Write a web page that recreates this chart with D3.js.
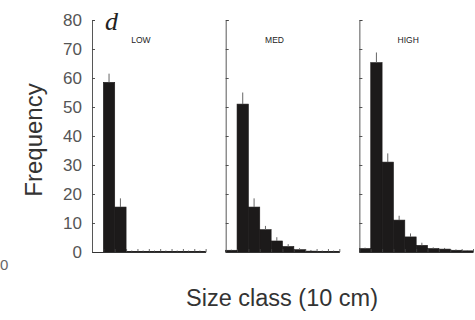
<!DOCTYPE html>
<html><head><meta charset="utf-8">
<script src="https://cdn.jsdelivr.net/npm/d3@7"></script>
<style>body{margin:0;background:#fff}svg{display:block}</style>
</head><body>
<svg id="c" width="475" height="320"></svg>
<script>
const panels = ["LOW", "MED", "HIGH"];
const bins = [0,1,2,3,4,5,6,7,8,9];
const lowValues  = [0, 58.5, 15.5, 0.2, 0.2, 0.2, 0.2, 0.2, 0.2, 0.2];
const lowErrors  = [0, 3, 3, 0.3, 0.3, 0.3, 0.3, 0.3, 0.3, 0.3];
const medValues  = [0.6, 51, 15.5, 7.7, 3.8, 1.9, 0.8, 0.3, 0.2, 0.2];
const medErrors  = [0.2, 4, 3, 1.3, 1.3, 0.8, 0.5, 0.4, 0.3, 0.3];
const highValues = [1.2, 65.3, 31, 11, 5.2, 2.3, 1.2, 1.0, 0.6, 0.4];
const highErrors = [0.3, 3.5, 3, 1.5, 1.2, 0.9, 0.4, 0.4, 0.3, 0.2];
const yTicks = [0,10,20,30,40,50,60,70,80];

const series = [
  {name: panels[0], values: lowValues, errors: lowErrors},
  {name: panels[1], values: medValues, errors: medErrors},
  {name: panels[2], values: highValues, errors: highErrors}
];

const svg = d3.select("#c");
const y = d3.scaleLinear().domain([0, 80]).range([252, 20]);
const panelX = d3.scaleBand().domain(panels).range([92, 473]).paddingInner(0.15).paddingOuter(0);
const font = "'Liberation Sans', Arial, sans-serif";

series.forEach((s, i) => {
  const x0 = panelX(s.name);
  const x = d3.scaleBand().domain(bins).range([x0, x0 + panelX.bandwidth()]).padding(0);
  const g = svg.append("g");

  // bars (drawn with a same-colour stroke so neighbours join without seams)
  g.selectAll("rect").data(bins).join("rect")
    .attr("x", d => x(d))
    .attr("width", x.bandwidth())
    .attr("y", d => y(s.values[d]))
    .attr("height", d => y(0) - y(s.values[d]))
    .attr("fill", "#1c1a1a")
    .attr("stroke", "#1c1a1a").attr("stroke-width", 0.6);

  // error bars
  g.selectAll("line.err").data(bins).join("line")
    .attr("class", "err")
    .attr("x1", d => x(d) + x.bandwidth() / 2)
    .attr("x2", d => x(d) + x.bandwidth() / 2)
    .attr("y1", d => y(s.values[d]))
    .attr("y2", d => y(s.values[d] + s.errors[d]))
    .attr("stroke", "#666").attr("stroke-width", 1);

  // y axis
  const ya = d3.axisLeft(y).tickValues(yTicks).tickSize(-3).tickPadding(10)
    .tickFormat(i === 0 ? d3.format("d") : () => "");
  const yg = g.append("g").attr("transform", `translate(${x0},0)`).call(ya);
  yg.select(".domain").attr("stroke", "#444").attr("stroke-width", 0.9);
  yg.selectAll(".tick line").attr("stroke", "#444").attr("stroke-width", 0.9);
  yg.selectAll("text").attr("font-family", font).attr("font-size", 17)
    .attr("fill", "#555").attr("font-weight", 300);

  // x axis baseline with inward ticks at bin boundaries
  const xb = d3.scaleLinear().domain([0, 10]).range([x0, x0 + panelX.bandwidth()]);
  const xa = d3.axisBottom(xb).tickValues(d3.range(1, 11)).tickSize(-3).tickSizeOuter(0).tickFormat(() => "");
  const xg = g.append("g").attr("transform", `translate(0,${y(0)})`).call(xa);
  xg.select(".domain").attr("stroke", "#333").attr("stroke-width", 1);
  xg.selectAll(".tick line").attr("stroke", "#444").attr("stroke-width", 0.8);

  // panel label
  g.append("text")
    .attr("x", x0 + panelX.bandwidth() * 0.43)
    .attr("y", 43)
    .attr("text-anchor", "middle")
    .attr("font-family", font).attr("font-size", 8.5)
    .attr("fill", "#222")
    .text(s.name);
});

// panel letter
svg.append("text").attr("x", 105).attr("y", 30)
  .attr("font-family", "'Liberation Serif', 'Times New Roman', serif")
  .attr("font-style", "italic").attr("font-size", 26).attr("fill", "#222").text("d");

// y title
svg.append("text")
  .attr("transform", "translate(42,140) rotate(-90)")
  .attr("text-anchor", "middle")
  .attr("font-family", font).attr("font-size", 24).attr("fill", "#333")
  .text("Frequency");

// x title
svg.append("text").attr("x", 282).attr("y", 306)
  .attr("text-anchor", "middle")
  .attr("font-family", font).attr("font-size", 23.5).attr("fill", "#333")
  .text("Size class (10 cm)");

// stray label at left edge
svg.append("text").attr("x", 0).attr("y", 270)
  .attr("font-family", font).attr("font-size", 15).attr("fill", "#666").attr("font-weight", 300)
  .text("0");
</script>
</body></html>
